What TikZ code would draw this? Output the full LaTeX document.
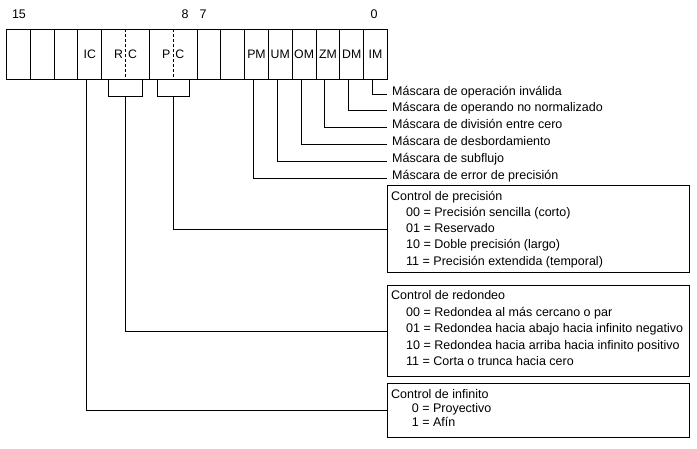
\documentclass[tikz,border=0pt]{standalone}
\usepackage{fontspec}
\setmainfont{Liberation Sans}
\usetikzlibrary{calc}
\begin{document}
\begin{tikzpicture}[x=1pt,y=-1pt,
  cell/.style={draw, line width=0.9pt, rectangle, inner sep=0pt, minimum height=50pt, minimum width=23.8125pt, anchor=north west, font=\fontsize{12.3}{14}\selectfont},
  dcell/.style={cell, minimum width=47.625pt},
  bitnum/.style={inner sep=0pt, font=\fontsize{12.5}{14}\selectfont},
  masktext/.style={anchor=west, inner xsep=5pt, inner ysep=0pt, text height=8pt, text depth=6pt, font=\fontsize{12.5}{15}\selectfont},
  box/.style={draw, line width=1.2pt, rectangle, inner sep=0pt, minimum width=302pt, anchor=north west},
  btext/.style={anchor=base west, inner sep=0pt, font=\fontsize{12.5}{15}\selectfont},
  conn/.style={line width=0.9pt},
  sep/.style={line width=0.9pt, densely dashed}
]
\path[use as bounding box, fill=white] (0,0) rectangle (697,448);

% register cells
\node[cell] (c15) at (6,29) {};
\node[cell] (c14) at (29.8125,29) {};
\node[cell] (c13) at (53.625,29) {};
\node[cell] (IC) at (77.4375,29) {IC};
\node[dcell] (RC) at (101.25,29) {R\hspace{5pt}C};
\node[dcell] (PC) at (148.875,29) {P\hspace{5pt}C};
\node[cell] (c7) at (196.5,29) {};
\node[cell] (c6) at (220.3125,29) {};
\node[cell] (PM) at (244.125,29) {PM};
\node[cell] (UM) at (267.9375,29) {UM};
\node[cell] (OM) at (291.75,29) {OM};
\node[cell] (ZM) at (315.5625,29) {ZM};
\node[cell] (DM) at (339.375,29) {DM};
\node[cell] (IM) at (363.1875,29) {IM};

\draw[sep] (RC.north) -- (RC.south);
\draw[sep] (PC.north) -- (PC.south);

% bit numbers
\node[bitnum] (n15) at (19,14) {15};
\node[bitnum] (n8) at (185,14) {8};
\node[bitnum] (n7) at (203,14) {7};
\node[bitnum] (n0) at (374,14) {0};

% mask texts
\node[masktext] (m0) at (387,94) {Máscara de operación inválida};
\node[masktext] (m1) at (387,110.9) {Máscara de operando no normalizado};
\node[masktext] (m2) at (387,127.7) {Máscara de división entre cero};
\node[masktext] (m3) at (387,144.6) {Máscara de desbordamiento};
\node[masktext] (m4) at (387,161.4) {Máscara de subflujo};
\node[masktext] (m5) at (387,178.3) {Máscara de error de precisión};

\draw[conn] ([xshift=-3pt]IM.south) |- (m0.west);
\draw[conn] ([xshift=-3pt]DM.south) |- (m1.west);
\draw[conn] ([xshift=-3pt]ZM.south) |- (m2.west);
\draw[conn] ([xshift=-3pt]OM.south) |- (m3.west);
\draw[conn] ([xshift=-3pt]UM.south) |- (m4.west);
\draw[conn] ([xshift=-3pt]PM.south) |- (m5.west);

% boxes
\node[box, minimum height=87pt] (pcbox) at (387,185) {};
\node[box, minimum height=91pt] (rcbox) at (387,285) {};
\node[box, minimum height=54pt] (icbox) at (387,383) {};

\node[btext] (pt0) at (391,200) {Control de precisión};
\node[btext] (pt1) at (406,216.3) {00 = Precisión sencilla (corto)};
\node[btext] (pt2) at (406,232.6) {01 = Reservado};
\node[btext] (pt3) at (406,248.9) {10 = Doble precisión (largo)};
\node[btext] (pt4) at (406,265.2) {11 = Precisión extendida (temporal)};

\node[btext] (rt0) at (391,299) {Control de redondeo};
\node[btext] (rt1) at (406,316) {00 = Redondea al más cercano o par};
\node[btext] (rt2) at (406,332.5) {01 = Redondea hacia abajo hacia infinito negativo};
\node[btext] (rt3) at (406,349) {10 = Redondea hacia arriba hacia infinito positivo};
\node[btext] (rt4) at (406,365.5) {11 = Corta o trunca hacia cero};

\node[btext] (it0) at (391,398) {Control de infinito};
\node[btext] (it1) at (411.7,412.5) {0 = Proyectivo};
\node[btext] (it2) at (411.7,426.7) {1 = Afín};

% brackets and connectors to boxes
\coordinate (rcb) at ($(RC.south)+(0,17)$);
\coordinate (pcb) at ($(PC.south)+(0,17)$);
\draw[conn] ($(RC.south)+(-17,0)$) |- ($(RC.south)+(17,17)$) -- ($(RC.south)+(17,0)$);
\draw[conn] ($(PC.south)+(-16,0)$) |- ($(PC.south)+(16,17)$) -- ($(PC.south)+(16,0)$);
\draw[conn] (pcb) |- (pcbox.west);
\draw[conn] (rcb) |- (rcbox.west);
\draw[conn] ([xshift=-3pt]IC.south) |- (icbox.west);
\end{tikzpicture}
\end{document}
